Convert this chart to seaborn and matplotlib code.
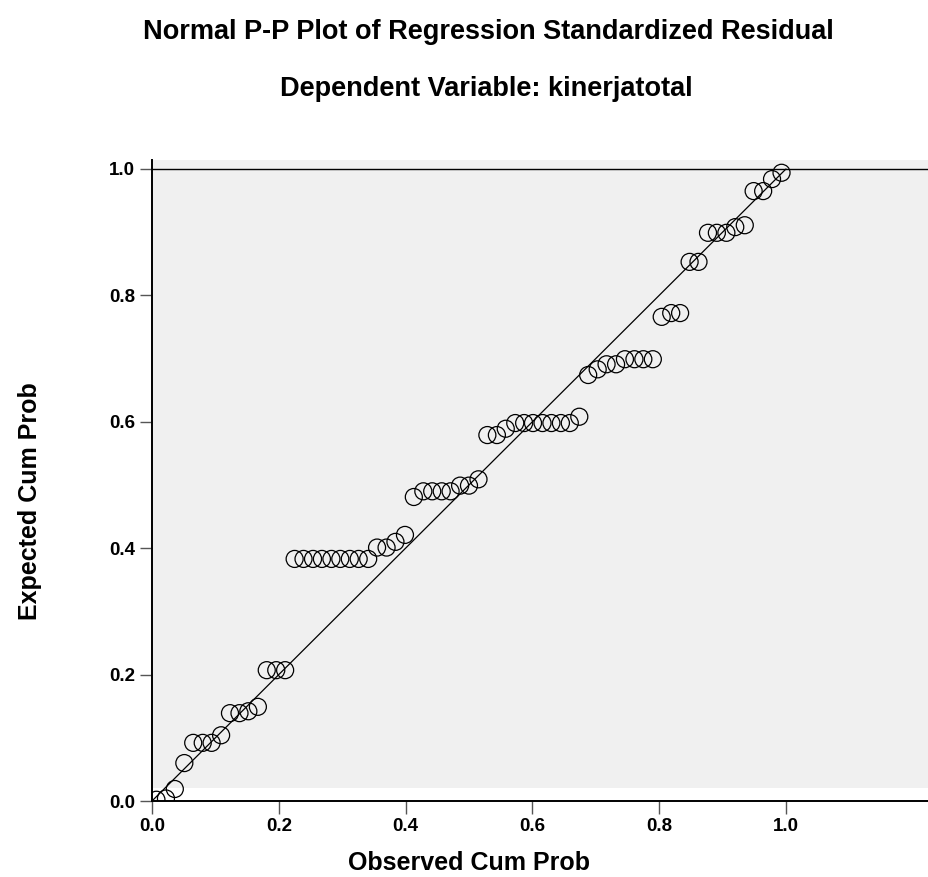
import numpy as np
import pandas as pd
import seaborn as sns
import matplotlib.pyplot as plt

# =========================
# DATA
# =========================
observed = [0.007, 0.022, 0.036, 0.051, 0.065, 0.080, 0.094, 0.109, 0.123, 0.138,
            0.152, 0.167, 0.181, 0.196, 0.210, 0.225, 0.239, 0.254, 0.268, 0.283,
            0.297, 0.312, 0.326, 0.341, 0.355, 0.370, 0.384, 0.399, 0.413, 0.428,
            0.442, 0.457, 0.471, 0.486, 0.500, 0.515, 0.529, 0.544, 0.558, 0.573,
            0.587, 0.601, 0.616, 0.630, 0.645, 0.659, 0.674, 0.688, 0.703, 0.717,
            0.732, 0.746, 0.761, 0.775, 0.790, 0.804, 0.819, 0.833, 0.848, 0.862,
            0.877, 0.891, 0.906, 0.920, 0.935, 0.949, 0.964, 0.978, 0.993]

expected = [0.002, 0.004, 0.019, 0.060, 0.092, 0.092, 0.092, 0.104, 0.139, 0.139,
            0.142, 0.149, 0.207, 0.207, 0.207, 0.383, 0.383, 0.383, 0.383, 0.383,
            0.383, 0.383, 0.383, 0.383, 0.401, 0.401, 0.410, 0.421, 0.481, 0.490,
            0.490, 0.490, 0.490, 0.499, 0.499, 0.509, 0.579, 0.579, 0.589, 0.598,
            0.598, 0.598, 0.598, 0.598, 0.598, 0.598, 0.608, 0.674, 0.683, 0.691,
            0.691, 0.699, 0.699, 0.699, 0.699, 0.766, 0.772, 0.772, 0.853, 0.853,
            0.899, 0.899, 0.899, 0.908, 0.911, 0.965, 0.965, 0.984, 0.994]

ref_line = [0.0, 1.0]
tick_vals = [0.0, 0.2, 0.4, 0.6, 0.8, 1.0]
tick_labels = ["0.0", "0.2", "0.4", "0.6", "0.8", "1.0"]

df = pd.DataFrame({'observed': observed, 'expected': expected})

# =========================
# STYLE
# =========================
sns.set_style("ticks")
plt.rcParams['font.family'] = ['Liberation Sans', 'DejaVu Sans']
plt.rcParams['text.color'] = 'black'
plt.rcParams['xtick.labelcolor'] = 'black'
plt.rcParams['ytick.labelcolor'] = 'black'

fig = plt.figure(figsize=(9.29, 8.77), dpi=100)
ax = fig.add_axes([152/929, 76/877, 777/929, 641/877])
ax.set_facecolor('#f0f0f0')
ax.axhspan(0, 0.021, color='white', lw=0, zorder=0.5)

# diagonal reference line + points
sns.lineplot(x=ref_line, y=ref_line, color='black', lw=0.9, ax=ax, zorder=2)
sns.scatterplot(data=df, x='observed', y='expected', s=150, marker='o',
                facecolors='none', edgecolor='black', linewidth=0.9,
                ax=ax, zorder=3)
ax.axhline(1.0, color='black', lw=1.0, zorder=2)

ax.set_xlim(0, 1.2256)
ax.set_ylim(0, 1.0142)
sns.despine(ax=ax, top=True, right=True)
for side in ['left', 'bottom']:
    ax.spines[side].set_color('black')
    ax.spines[side].set_linewidth(1.4)

ax.set_xticks(tick_vals, tick_labels)
ax.set_yticks(tick_vals, tick_labels)
ax.tick_params(direction='out', length=9, width=1, color='#555555',
               labelsize=13.5, pad=3, labelcolor='black')
for lab in ax.get_xticklabels() + ax.get_yticklabels():
    lab.set_fontweight('bold')
ax.set_xlabel('')
ax.set_ylabel('')

# =========================
# TEXT
# =========================
fig.text(488/929, 1 - 39/877, 'Normal P-P Plot of Regression Standardized Residual',
         ha='center', va='baseline', fontsize=19.5, fontweight='bold', color='black')
fig.text(486/929, 1 - 96/877, 'Dependent Variable: kinerjatotal',
         ha='center', va='baseline', fontsize=19.5, fontweight='bold', color='black')
fig.text(469/929, 1 - 870/877, 'Observed Cum Prob',
         ha='center', va='baseline', fontsize=18, fontweight='bold', color='black')
fig.text(30/929, 1 - 501/877, 'Expected Cum Prob', rotation=90,
         ha='center', va='center', fontsize=18, fontweight='bold', color='black')

plt.savefig("out.png", dpi=100)
